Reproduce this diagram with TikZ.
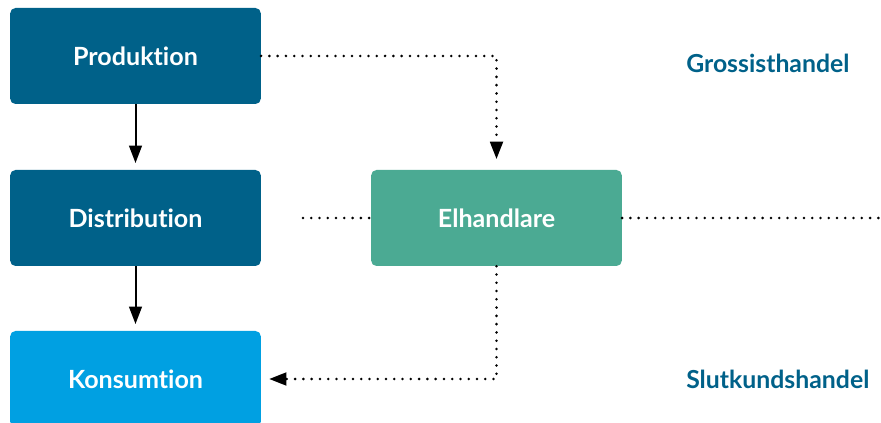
\documentclass[tikz,border=0pt]{standalone}
\usepackage{fontspec}
\setmainfont{Lato}[Ligatures=NoCommon]
\usepackage{xcolor}
\definecolor{eldark}{RGB}{0,97,137}
\definecolor{elteal}{RGB}{75,170,147}
\definecolor{ellight}{RGB}{0,160,226}
\usetikzlibrary{arrows.meta}

\tikzset{
  box/.style={rounded corners=4pt, minimum width=188pt, minimum height=72pt,
              inner sep=0pt, text=white, font=\fontsize{18.8}{22}\selectfont\bfseries},
  tag/.style={anchor=west, text=eldark, inner sep=0pt, font=\fontsize{18.6}{22}\selectfont\bfseries},
  flow/.style={line width=1.5pt, -{Triangle[width=9.5pt, length=13pt]}},
  dots/.style={line width=2.1pt, line cap=round, dash pattern=on 0pt off 6.2pt},
  dotflow/.style={dots, -{Triangle[width=9.5pt, length=13pt, line cap=butt]}},
}

\begin{document}
\begin{tikzpicture}[x=0.75pt, y=-0.75pt]
\useasboundingbox (0,0) rectangle (881,423);
\clip (0,0) rectangle (881,423);

% === Boxes ===
\node[box, fill=eldark] (prod) at (135.5,56) {Produktion};
\node[box, fill=eldark] (dist) at (135.5,218) {Distribution};
\node[box, fill=ellight] (kons) at (135.5,379) {Konsumtion};
\node[box, fill=elteal] (elh) at (496.5,218) {Elhandlare};

% === Market labels ===
\node[tag] (gross) at (686,63) {Grossisthandel};
\node[tag] (slut) at (686,379) {Slutkundshandel};

% === Physical flow ===
\draw[flow, shorten >=5pt] (prod) -- (dist);
\draw[flow, shorten >=5pt] (dist) -- (kons);

% === Trade ===
\coordinate (lend) at (303,218);
\coordinate (rend) at (884,218);
\draw[dotflow, shorten >=8pt] (prod.east) -| (elh.north);
\draw[dots] (lend) -- (elh.west);
\draw[dots] (elh.east) -- (rend);
\draw[dotflow, shorten >=6pt] (elh.south) |- (kons.east);

\end{tikzpicture}
\end{document}
